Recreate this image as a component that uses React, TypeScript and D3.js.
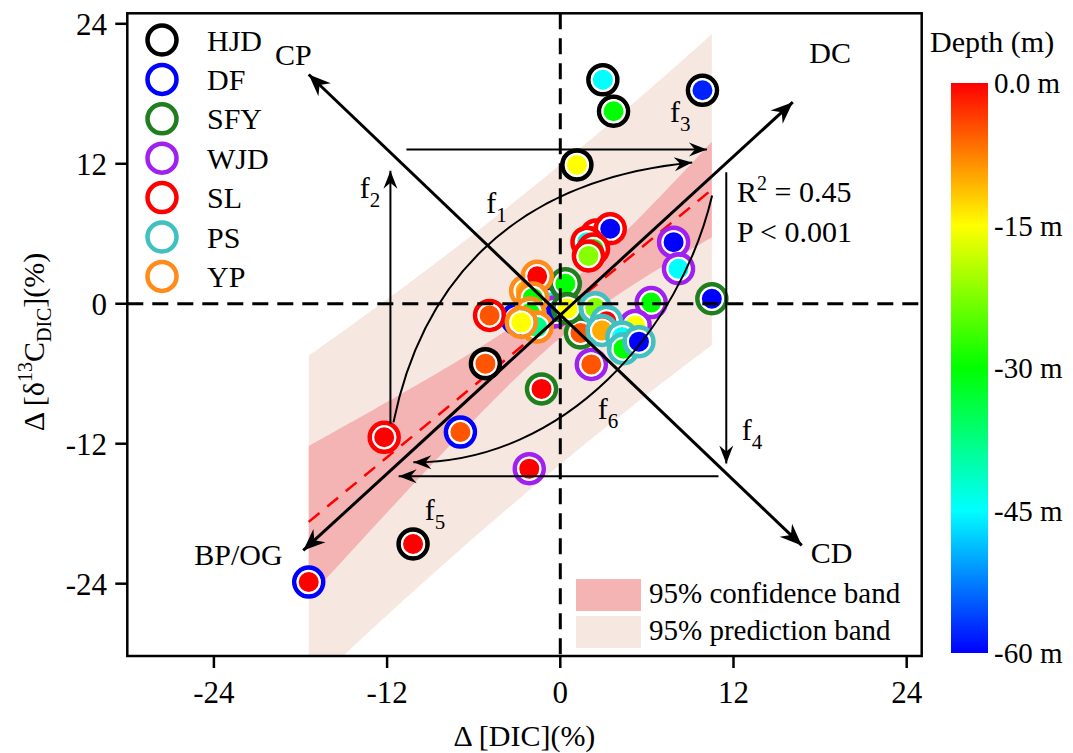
import React from 'react';
import * as d3 from 'd3';

const W = 1073;
const H = 753;
const FONT = '"Liberation Serif", "Times New Roman", serif';

// sites (legend order) and their ring colours
const siteNames = ['HJD', 'DF', 'SFY', 'WJD', 'SL', 'PS', 'YP'];
const siteColors = ['#000000', '#0000ff', '#1f7f1f', '#a020f0', '#ff0000', '#40c0c0', '#ff8c1a'];

// each point: [Δ DIC (%), Δ δ13C-DIC (%), depth (m)]
const hjd = [[2.95, 19.2, -45], [3.69, 16.5, -30], [9.85, 18.3, -58], [1.15, 11.9, -15], [-5.19, -5.14, -5], [-10.2, -20.6, 0]];
const df = [[-17.43, -23.86, 0], [-6.92, -11.0, -5], [-3.0, -1.3, -15], [-0.75, 0.1, -45]];
const sfy = [[10.5, 0.43, -60], [0.35, 1.71, -30], [-1.3, -7.3, 0], [1.4, -2.5, -5], [0.5, -0.4, -15]];
const wjd = [[7.85, 5.28, -60], [8.19, 3.0, -45], [6.3, 0.1, -30], [5.19, -1.86, -15], [2.15, -5.2, -5], [-2.15, -14.14, 0], [-0.4, -0.7, -60]];
const sl = [[2.5, 5.9, -8], [3.46, 6.43, -60], [1.85, 5.28, -45], [2.3, 4.7, -30], [1.95, 4.1, -22], [-4.9, -1.0, -5], [-12.2, -11.45, 0]];
const ps = [[2.42, -0.35, -22], [3.2, -1.5, 0], [2.89, -2.29, -10], [4.27, -2.86, -45], [4.38, -3.85, -30], [5.45, -3.25, -60]];
const yp = [[-2.4, 1.1, -10], [-1.6, 2.35, 0], [-1.9, 0.5, -30], [-2.1, -0.8, -30], [-1.6, -2.0, -38], [-2.7, -1.6, -15]];
const siteData = [hjd, df, sfy, wjd, sl, ps, yp];
const drawOrder = [0, 1, 3, 4, 2, 6, 5];

// ticks
const xTicks = [-24, -12, 0, 12, 24];
const yTicks = [24, 12, 0, -12, -24];
const depthStops = [0, -15, -30, -45, -60];
const depthColors = ['#ff0000', '#ffff00', '#00ff00', '#00ffff', '#0000ff'];
const depthLabels = ['0.0 m', '-15 m', '-30 m', '-45 m', '-60 m'];

// linear fit and its 95% bands
const fitSlope = 1.02;
const fitIntercept = -0.92;
const fitXMean = 0.28;
const confA = 4;
const confB = 0.1224;
const predS2 = 161;
const bandRange = [-17.43, 10.5];

// process arrows (data coordinates)
const bigArrows = [
  [[-17.43, 19.65], [16.73, -20.72]],
  [[-17.81, -21.15], [16.11, 17.28]],
];
const bigLabels = [
  ['CP', -18.5, 20.5],
  ['DC', 18.7, 20.6],
  ['CD', 18.8, -22.2],
  ['BP/OG', -22.3, -22.4],
];
const straightArrows = [
  [[-11.77, -10.3], [-11.77, 11.4]],
  [[-10.66, 13.23], [10.16, 13.23]],
  [[11.5, 11.28], [11.5, -13.7]],
  [[10.96, -14.78], [-11.2, -14.78]],
];
const curveArrows = [
  [[-11.56, -10.17], [-9.69, 1.14], [-3.81, 10.57], [9.14, 12.11]],
  [[10.52, 9.28], [8.31, -2.29], [0.35, -13.6], [-10.18, -13.6]],
];
const fLabels = [
  ['1', -5.13, 7.78],
  ['2', -13.9, 9.07],
  ['3', 7.6, 15.6],
  ['4', 12.58, -11.7],
  ['5', -9.39, -18.58],
  ['6', 2.6, -9.84],
];

export default function App() {
  const x = d3.scaleLinear().domain([-30, 25.04]).range([127.3, 921.7]);
  const y = d3.scaleLinear().domain([-30.2, 24.9]).range([656, 13.3]);
  const depthColor = d3.scaleLinear<string>().domain(depthStops).range(depthColors);
  const cbY = d3.scaleLinear().domain([0, -60]).range([83, 653]);

  const [x0, x1] = x.range();
  const [yb, yt] = y.range();

  const fit = (v: number) => fitIntercept + fitSlope * v;
  const confHW = (v: number) => Math.sqrt(confA + confB * (v - fitXMean) ** 2);
  const predHW = (v: number) => Math.sqrt(confA + confB * (v - fitXMean) ** 2 + predS2);
  const bx = d3.range(bandRange[0], bandRange[1], 0.2).concat([bandRange[1]]);
  const predArea = d3.area<number>().x((v) => x(v)).y0((v) => y(fit(v) - predHW(v))).y1((v) => y(fit(v) + predHW(v)));
  const confArea = d3.area<number>().x((v) => x(v)).y0((v) => y(fit(v) - confHW(v))).y1((v) => y(fit(v) + confHW(v)));

  const curve = (p: number[][]) => {
    const path = d3.path();
    path.moveTo(x(p[0][0]), y(p[0][1]));
    path.bezierCurveTo(x(p[1][0]), y(p[1][1]), x(p[2][0]), y(p[2][1]), x(p[3][0]), y(p[3][1]));
    return path.toString();
  };

  return (
    <svg width={W} height={H} style={{ position: 'absolute', left: 0, top: 0, background: '#fff' }} fontFamily={FONT}>
      <defs>
        <clipPath id="plotClip">
          <rect x={x0} y={yt} width={x1 - x0} height={yb - yt} />
        </clipPath>
        <marker id="bigHead" viewBox="-24 -10 26 20" refX={0} refY={0} markerWidth={26} markerHeight={20}
          markerUnits="userSpaceOnUse" orient="auto-start-reverse">
          <path d="M0,0 L-22,-9 L-15,0 L-22,9 Z" fill="#000" />
        </marker>
        <marker id="smallHead" viewBox="-20 -8 22 16" refX={0} refY={0} markerWidth={22} markerHeight={16}
          markerUnits="userSpaceOnUse" orient="auto">
          <path d="M0,0 L-18,-7 L-12,0 L-18,7 Z" fill="#000" />
        </marker>
        <linearGradient id="depthGrad" x1="0" y1="0" x2="0" y2="1">
          {depthStops.map((d, i) => (
            <stop key={i} offset={`${(i / (depthStops.length - 1)) * 100}%`} stopColor={depthColors[i]} />
          ))}
        </linearGradient>
      </defs>

      {/* bands and fit */}
      <g clipPath="url(#plotClip)">
        <path d={predArea(bx) || ''} fill="#f6e8e0" />
        <path d={confArea(bx) || ''} fill="#f4b4b4" />
        <line x1={x(bandRange[0])} y1={y(fit(bandRange[0]))} x2={x(bandRange[1])} y2={y(fit(bandRange[1]))}
          stroke="#ff0000" strokeWidth={2.5} strokeDasharray="14,10" />
      </g>

      {/* points */}
      <g>
        {drawOrder.map((si) =>
          siteData[si].map((p, j) => (
            <g key={`${si}-${j}`}>
              <circle cx={x(p[0])} cy={y(p[1])} r={14.5} fill="none" stroke={siteColors[si]} strokeWidth={4.5} />
              <circle cx={x(p[0])} cy={y(p[1])} r={11} fill={depthColor(p[2])} stroke="#fff" strokeWidth={2} />
            </g>
          ))
        )}
      </g>

      {/* zero lines */}
      <line x1={x0} x2={x1} y1={y(0)} y2={y(0)} stroke="#000" strokeWidth={3} strokeDasharray="16,9" />
      <line x1={x(0)} x2={x(0)} y1={yt} y2={yb} stroke="#000" strokeWidth={3} strokeDasharray="16,9" />

      {/* process arrows */}
      {bigArrows.map((a, i) => (
        <line key={i} x1={x(a[0][0])} y1={y(a[0][1])} x2={x(a[1][0])} y2={y(a[1][1])}
          stroke="#000" strokeWidth={3} markerStart="url(#bigHead)" markerEnd="url(#bigHead)" />
      ))}
      {straightArrows.map((a, i) => (
        <line key={i} x1={x(a[0][0])} y1={y(a[0][1])} x2={x(a[1][0])} y2={y(a[1][1])}
          stroke="#000" strokeWidth={2} markerEnd="url(#smallHead)" />
      ))}
      {curveArrows.map((c, i) => (
        <path key={i} d={curve(c)} fill="none" stroke="#000" strokeWidth={2} markerEnd="url(#smallHead)" />
      ))}
      {bigLabels.map(([t, lx, ly]) => (
        <text key={t as string} x={x(lx as number)} y={y(ly as number)} fontSize={30} textAnchor="middle">{t}</text>
      ))}
      {fLabels.map(([n, lx, ly]) => (
        <text key={n as string} x={x(lx as number)} y={y(ly as number)} fontSize={30}>
          f<tspan fontSize={21} dy={9}>{n}</tspan>
        </text>
      ))}
      <text x={x(12.24)} y={y(8.72)} fontSize={30}>
        R<tspan fontSize={20} dy={-12}>2</tspan><tspan dy={12}> = 0.45</tspan>
      </text>
      <text x={x(12.24)} y={y(5.28)} fontSize={30}>P &lt; 0.001</text>

      {/* frame and axes */}
      <rect x={x0} y={yt} width={x1 - x0} height={yb - yt} fill="none" stroke="#000" strokeWidth={2.5} />
      {xTicks.map((t) => (
        <g key={t}>
          <line x1={x(t)} x2={x(t)} y1={yb} y2={yb + 12} stroke="#000" strokeWidth={2.5} />
          <text x={x(t)} y={703} fontSize={31} textAnchor="middle">{t}</text>
        </g>
      ))}
      {yTicks.map((t) => (
        <g key={t}>
          <line x1={x0 - 12} x2={x0} y1={y(t)} y2={y(t)} stroke="#000" strokeWidth={2.5} />
          <text x={107} y={y(t)} dy="0.35em" fontSize={31} textAnchor="end">{t}</text>
        </g>
      ))}
      <text x={(x0 + x1) / 2} y={746} fontSize={30} textAnchor="middle">Δ [DIC](%)</text>
      <text transform="translate(44,342) rotate(-90)" fontSize={30} textAnchor="middle">
        Δ [δ<tspan fontSize={20} dy={-12}>13</tspan><tspan dy={12}>C</tspan>
        <tspan fontSize={20} dy={7}>DIC</tspan><tspan dy={-7}>](%)</tspan>
      </text>

      {/* site legend */}
      {siteNames.map((s, i) => (
        <g key={s}>
          <circle cx={162} cy={40 + i * 39.4} r={14.5} fill="none" stroke={siteColors[i]} strokeWidth={4.5} />
          <text x={207} y={40 + i * 39.4} dy="0.35em" fontSize={30}>{s}</text>
        </g>
      ))}

      {/* band legend */}
      <rect x={576} y={579} width={65} height={32} fill="#f4b4b4" />
      <rect x={576} y={616} width={65} height={32} fill="#f6e8e0" />
      <text x={649} y={603} fontSize={29}>95% confidence band</text>
      <text x={649} y={640} fontSize={29}>95% prediction band</text>

      {/* depth colour bar */}
      <text x={930} y={52} fontSize={30}>Depth (m)</text>
      <rect x={951} y={cbY(0)} width={37} height={cbY(-60) - cbY(0)} fill="url(#depthGrad)" />
      {depthStops.map((d, i) => (
        <text key={d} x={994} y={cbY(d)} dy="0.35em" fontSize={29}>{depthLabels[i]}</text>
      ))}
    </svg>
  );
}
